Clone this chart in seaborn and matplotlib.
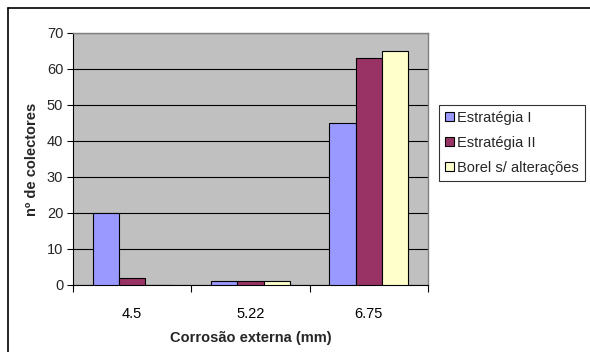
import matplotlib
matplotlib.use("Agg")
import matplotlib.pyplot as plt
import seaborn as sns
import pandas as pd
from matplotlib.patches import Rectangle
from matplotlib.lines import Line2D

categories = ["4.5", "5.22", "6.75"]
series_names = ["Estratégia I", "Estratégia II", "Borel s/ alterações"]
estrategia_1 = [20, 1, 45]
estrategia_2 = [2, 1, 63]
borel = [0, 1, 65]
colors = ["#9999FF", "#993366", "#FFFFCC"]

sns.set_theme(style="white")
plt.rcParams['font.family'] = ['Liberation Sans', 'DejaVu Sans']

rows = []
for name, vals in zip(series_names, [estrategia_1, estrategia_2, borel]):
    for c, v in zip(categories, vals):
        rows.append({"cat": c, "serie": name, "val": v})
df = pd.DataFrame(rows)

fig = plt.figure(figsize=(5.9, 3.52), dpi=100)
ax = fig.add_axes([73/590, 1-285/352, (428-73)/590, (285-33)/352])
ax.set_facecolor("#C0C0C0")

sns.barplot(data=df, x="cat", y="val", hue="serie", order=categories,
            hue_order=series_names, palette=colors, saturation=1, width=2/3, gap=0,
            edgecolor="black", linewidth=0.8, ax=ax, legend=False, zorder=3)

ax.set_xlim(-0.5, 2.5)
ax.set_ylim(0, 70)
ax.set_yticks(range(0, 71, 10))
ax.yaxis.grid(True, color="black", linewidth=0.8, zorder=1)
ax.set_axisbelow(True)
for s in ["top", "right"]:
    ax.spines[s].set_color("#808080")
    ax.spines[s].set_linewidth(1.0)
for s in ["left", "bottom"]:
    ax.spines[s].set_color("black")
    ax.spines[s].set_linewidth(0.8)

ax.set_xticks(range(3))
ax.set_xticklabels(categories)
ax.set_xticks([-0.5, 0.5, 1.5, 2.5], minor=True)
ax.tick_params(axis="x", which="major", length=0, pad=16, labelsize=10.5, colors="black")
ax.tick_params(axis="x", which="minor", length=5, width=0.8, color="black", direction="out", bottom=True)
ax.tick_params(axis="y", length=4, width=0.8, color="black", direction="out", left=True, labelsize=10.5, pad=3)

ax.set_xlabel("Corrosão externa (mm)", fontsize=10.5, fontweight="bold", labelpad=7)
ax.set_ylabel("nº de colectores", fontsize=10.5, fontweight="bold", labelpad=6)

handles = [Rectangle((0, 0), 1, 1, facecolor=c, edgecolor="black", linewidth=0.8) for c in colors]
leg = fig.legend(handles, series_names, loc="upper left",
                 bbox_to_anchor=(439/590, 1-105/352), fontsize=10.5,
                 frameon=True, fancybox=False, handlelength=0.6, handleheight=0.6,
                 handletextpad=0.25, borderpad=0.4, labelspacing=0.75, borderaxespad=0)
leg.get_frame().set_edgecolor("black")
leg.get_frame().set_linewidth(0.8)

fig.add_artist(Line2D([8/590, 8/590], [0, 1-8/352], transform=fig.transFigure, color="black", linewidth=1.2))
fig.add_artist(Line2D([8/590, 1], [1-8/352, 1-8/352], transform=fig.transFigure, color="black", linewidth=1.2))

fig.savefig("out.png", dpi=100)
